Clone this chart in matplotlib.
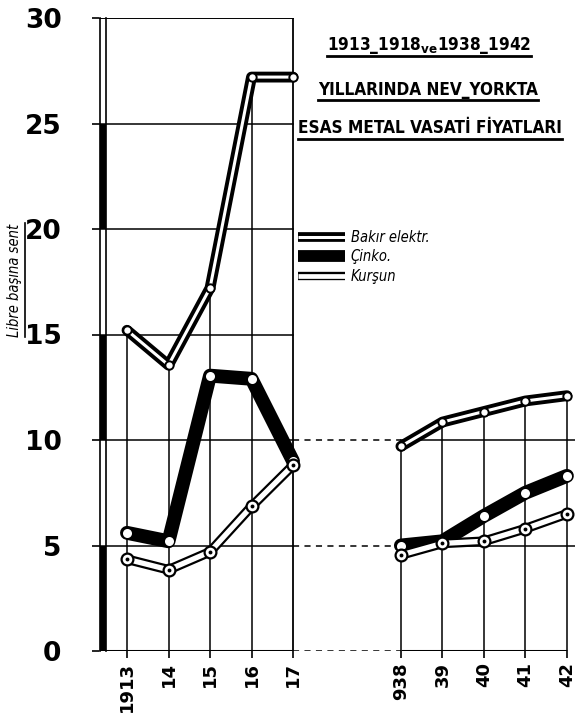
import os
import matplotlib
matplotlib.use("Agg")
import matplotlib.pyplot as plt
import matplotlib.patheffects as pe
from matplotlib.lines import Line2D
from matplotlib import font_manager as fm
import matplotlib.transforms as mtransforms

# ---------------- data ----------------
labels_a = ["1913", "14", "15", "16", "17"]
labels_b = ["938", "39", "40", "41", "42"]
copper_a = [15.2, 13.55, 17.2, 27.2, 27.2]
zinc_a = [5.6, 5.2, 13.05, 12.9, 9.0]
lead_a = [4.35, 3.85, 4.7, 6.85, 8.8]
copper_b = [9.7, 10.85, 11.35, 11.85, 12.1]
zinc_b = [5.0, 5.2, 6.4, 7.5, 8.3]
lead_b = [4.55, 5.1, 5.2, 5.8, 6.5]
series_names = ["Bakır elektr.", "Çinko.", "Kurşun"]
yticks = [0, 5, 10, 15, 20, 25, 30]
title_lines = ["1913_1918$_{\\mathbf{ve}}$1938_1942", "YILLARINDA NEV_YORKTA", "ESAS METAL VASATİ FİYATLARI"]
ylabel = "Libre başına sent"

# ---------------- layout ----------------
W, H = 575, 713
GAP = 6.6
xa = list(range(len(labels_a)))
xb = [GAP + i for i in range(len(labels_b))]


def find_font(prefixes):
    files = sorted({f.fname for f in fm.fontManager.ttflist})
    for p in prefixes:
        for fn in files:
            if os.path.basename(fn).startswith(p):
                return fm.FontProperties(fname=fn)
    return None


fp_title = find_font(["NotoSans-ExtraCondensedBold.", "NotoSans-CondensedBold.",
                      "LiberationSansNarrow-Bold.", "DejaVuSansCondensed-Bold.",
                      "RobotoCondensed-Bold."]) or fm.FontProperties(family="DejaVu Sans", weight="bold")
fp_it = find_font(["NotoSans-ExtraCondensedItalic.", "NotoSans-CondensedItalic.",
                   "LiberationSansNarrow-Italic.", "DejaVuSansCondensed-Oblique.",
                   "RobotoCondensed-Italic."]) or fm.FontProperties(family="DejaVu Sans", style="italic")

fig = plt.figure(figsize=(W / 100, H / 100), dpi=100)
fig.patch.set_facecolor("white")
ax_l, ax_b, ax_r, ax_t = 99, 62, 575, 18
ax = fig.add_axes([ax_l / W, ax_b / H, (ax_r - ax_l) / W, (H - ax_t - ax_b) / H])
ax.set_xlim(-(127 - ax_l) / 41.5, (575 - 127) / 41.5)
ax.set_ylim(0, 30)
for s in ax.spines.values():
    s.set_visible(False)

# grid / frame
gl = dict(color="black", lw=1.1, zorder=1)
for y in yticks[1:-1]:
    ax.plot([ax.get_xlim()[0], xa[-1]], [y, y], **gl)
ax.plot([ax.get_xlim()[0], xa[-1]], [30, 30], color="black", lw=1.4, zorder=1)
for y in [5, 10]:
    ax.plot([xb[0], ax.get_xlim()[1]], [y, y], **gl)
for y in [0, 5, 10]:
    ax.plot([xa[-1], xb[0]], [y, y], color="black", lw=1.1, ls=(0, (4, 3.5)), zorder=1)
ax.vlines(xa[:-1], 0, copper_a[:-1], colors="black", lw=1.1, zorder=1)
ax.vlines([xa[-1]], 0, 30, colors="black", lw=1.3, zorder=1)
ax.vlines(xb, 0, copper_b, colors="black", lw=1.1, zorder=1)
ax.plot([ax.get_xlim()[0], xa[-1]], [0, 0], color="black", lw=2.2, zorder=2, solid_capstyle="butt")
ax.plot([xb[0], xb[-1]], [0, 0], color="black", lw=2.2, zorder=2, solid_capstyle="butt")

# left axis bar (double line with alternating black fill)
tr = mtransforms.blended_transform_factory(ax.transAxes, ax.transData)
bw = 7 / (ax_r - ax_l)
ax.plot([0.002, 0.002], [0, 30], transform=tr, color="black", lw=1.2, clip_on=False)
ax.plot([bw, bw], [0, 30], transform=tr, color="black", lw=1.2, clip_on=False)
for y0 in [0, 10, 20]:
    ax.fill_between([0.002, bw], y0, y0 + 5, transform=tr, color="black", lw=0, clip_on=False)

# ticks
ax.set_yticks(yticks)
ax.set_yticklabels([str(v) for v in yticks], fontsize=19, fontweight="bold")
ax.tick_params(axis="y", direction="out", length=5, width=1.2, pad=22)
ax.set_xticks(xa + xb)
ax.set_xticklabels(labels_a + labels_b, rotation=90, fontsize=13, fontweight="bold", va="top")
ax.tick_params(axis="x", direction="out", length=5, width=1.2, pad=3)


# ---------------- series ----------------
def draw_series(xs, ys, kind):
    if kind == "zinc":
        ax.plot(xs, ys, color="black", lw=10, solid_joinstyle="round", solid_capstyle="round", zorder=3)
        ax.plot(xs, ys, ls="none", marker="o", ms=6.5, mfc="white", mec="white", mew=0, zorder=3.1)
    elif kind == "lead":
        ax.plot(xs, ys, color="white", lw=3.8, solid_joinstyle="round", solid_capstyle="round", zorder=4,
                path_effects=[pe.Stroke(linewidth=7.0, foreground="black", capstyle="round", joinstyle="round"), pe.Normal()])
        ax.plot(xs, ys, ls="none", marker="o", ms=8.5, mfc="white", mec="black", mew=1.6, zorder=4.1)
        ax.plot(xs, ys, ls="none", marker="o", ms=2.8, mfc="black", mec="black", mew=0, zorder=4.2)
    else:
        ax.plot(xs, ys, color="white", lw=2.2, solid_joinstyle="round", solid_capstyle="round", zorder=5,
                path_effects=[pe.Stroke(linewidth=7.8, foreground="black", capstyle="round", joinstyle="round"), pe.Normal()])
        ax.plot(xs, ys, ls="none", marker="o", ms=6, mfc="white", mec="black", mew=1.4, zorder=5.1)


for xs, z, l, c in [(xa, zinc_a, lead_a, copper_a), (xb, zinc_b, lead_b, copper_b)]:
    draw_series(xs, z, "zinc")
    draw_series(xs, l, "lead")
    draw_series(xs, c, "copper")

# legend
h_cu = Line2D([], [], color="white", lw=2.2, solid_capstyle="butt",
              path_effects=[pe.Stroke(linewidth=7.0, foreground="black", capstyle="butt"), pe.Normal()])
h_zn = Line2D([], [], color="black", lw=8.5, solid_capstyle="butt")
h_pb = Line2D([], [], color="white", lw=3.4, solid_capstyle="butt",
              path_effects=[pe.Stroke(linewidth=6.0, foreground="black", capstyle="butt"), pe.Normal()])
leg_fp = fp_it.copy()
leg_fp.set_size(10.5)
fig.legend([h_cu, h_zn, h_pb], series_names, loc="upper left", bbox_to_anchor=(298 / W, 1 - 230 / H),
           frameon=False, prop=leg_fp, handlelength=3.2, handletextpad=0.4, labelspacing=0.3, borderpad=0,
           borderaxespad=0)

# title
t_fp = fp_title.copy()
t_fp.set_size(20)
baselines = [50, 95, 133]
centers = [429, 428, 430]
texts = []
for line, yb, xc in zip(title_lines, baselines, centers):
    texts.append(fig.text(xc / W, 1 - yb / H, line, fontproperties=t_fp.copy(), ha="center", va="baseline"))
fig.canvas.draw()
r = fig.canvas.get_renderer()
w3 = texts[2].get_window_extent(r).width
size = min(20 * 264 / w3, 30)
for t in texts:
    t.set_fontsize(size)

# y label
yl = fig.text(15 / W, 1 - 280 / H, ylabel, rotation=90, ha="center", va="center", fontproperties=fp_it.copy())
yl.set_fontsize(10.5)

fig.canvas.draw()
r = fig.canvas.get_renderer()
for t, yu in zip(texts, [56, 100, 139]):
    bb = t.get_window_extent(r)
    fig.add_artist(Line2D([bb.x0 / W, bb.x1 / W], [1 - yu / H, 1 - yu / H], transform=fig.transFigure,
                          color="black", lw=2.0))
bb = yl.get_window_extent(r)
fig.add_artist(Line2D([(bb.x1 + 2) / W] * 2, [bb.y0 / H, bb.y1 / H], transform=fig.transFigure,
                      color="black", lw=1.2))

fig.savefig("out.png", dpi=100, facecolor="white")
